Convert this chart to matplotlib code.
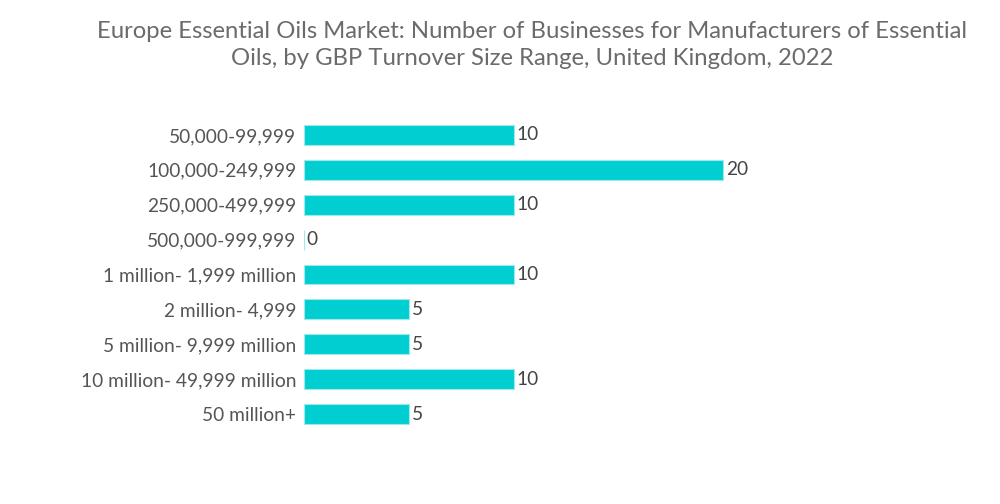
import matplotlib
matplotlib.use("Agg")
import matplotlib.pyplot as plt

categories = ["50,000-99,999", "100,000-249,999", "250,000-499,999", "500,000-999,999",
              "1 million- 1,999 million", "2 million- 4,999", "5 million- 9,999 million",
              "10 million- 49,999 million", "50 million+"]
values = [10, 20, 10, 0, 10, 5, 5, 10, 5]

plt.rcParams['font.family'] = ['Lato', 'DejaVu Sans']

fig = plt.figure(figsize=(10, 5.04), dpi=100)
W, H = 1000, 504
left, right = 304, 960
top, bottom = 117.5, 431.5
ax = fig.add_axes([left / W, 1 - bottom / H, (right - left) / W, (bottom - top) / H])

y = list(range(len(categories)))
ax.barh(y, values, height=0.57, color="#00CED1", edgecolor="#9BEAEC", linewidth=0.8)
ax.set_xlim(0, (right - left) / 20.95)
ax.set_ylim(len(categories) - 0.5, -0.5)
ax.set_yticks(y)
ax.set_yticklabels(categories, fontsize=13.8, color="#555555")
ax.tick_params(axis="y", length=0, pad=5.5)
ax.set_xticks([])
for s in ax.spines.values():
    s.set_visible(False)

for yi, v in zip(y, values):
    ax.annotate(str(v), (v, yi), xytext=(2, 0), textcoords="offset points",
                va="center", ha="left", fontsize=13.8, color="#444444")

fig.text(0.532, 1 - 45 / H, "Europe Essential Oils Market: Number of Businesses for Manufacturers of Essential\nOils, by GBP Turnover Size Range, United Kingdom, 2022",
         ha="center", va="center", fontsize=17.2, color="#6b6b6b", linespacing=1.3)

fig.savefig("out.png", dpi=100)
